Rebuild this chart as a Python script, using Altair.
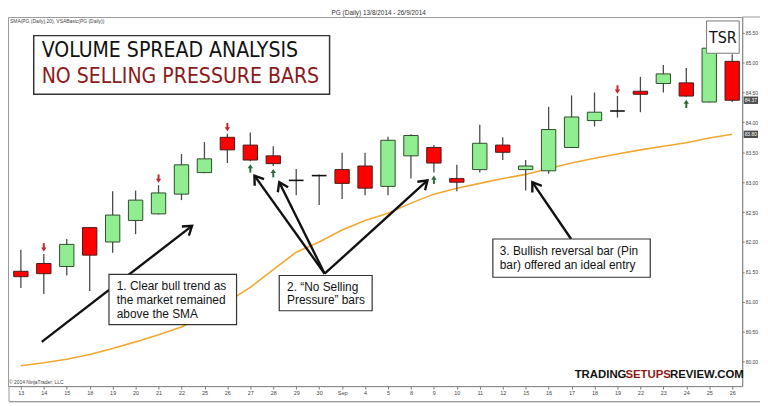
import json
import math
import altair as alt
import pandas as pd

# ---------------- data ----------------
day_labels = ["13", "14", "15", "18", "19", "20", "21", "22", "25", "26", "27", "28",
              "29", "30", "Sep", "4", "5", "8", "9", "10", "11", "12", "15", "16",
              "17", "18", "19", "22", "23", "24", "25", "26"]
opens = [81.51, 81.64, 81.59, 82.24, 82.00, 82.36, 82.47, 82.80, 83.16, 83.75,
         83.62, 83.44, 83.03, 83.11, 83.21, 83.27, 82.93, 83.44, 83.58, 83.06,
         83.21, 83.62, 83.21, 83.19, 83.58, 84.03, 84.19, 84.52, 84.65, 84.66,
         84.34, 85.02]
highs = [81.87, 81.80, 82.05, 82.25, 82.85, 82.86, 82.95, 83.47, 83.67, 83.81,
         83.83, 83.60, 83.22, 83.13, 83.49, 83.49, 83.76, 83.80, 83.62, 83.29,
         83.96, 83.75, 83.37, 84.26, 84.45, 84.50, 84.44, 84.76, 84.96, 84.91,
         85.45, 85.14]
lows = [81.23, 81.13, 81.44, 81.18, 81.82, 82.13, 82.46, 82.70, 83.15, 83.32,
        83.35, 83.27, 82.78, 82.62, 82.72, 82.78, 82.78, 83.06, 83.16, 82.85,
        83.16, 83.37, 82.86, 83.14, 83.57, 83.93, 84.08, 84.17, 84.50, 84.43,
        84.33, 84.34]
closes = [81.42, 81.47, 81.96, 81.78, 82.45, 82.70, 82.82, 83.29, 83.39, 83.54,
          83.37, 83.31, 83.03, 83.11, 82.98, 82.90, 83.70, 83.78, 83.32, 83.00,
          83.65, 83.50, 83.27, 83.88, 84.09, 84.17, 84.19, 84.47, 84.81, 84.44,
          85.24, 84.37]
sma20 = [79.93, 79.98, 80.04, 80.12, 80.22, 80.33, 80.45, 80.58, 80.76, 81.00,
         81.24, 81.54, 81.83, 82.00, 82.20, 82.36, 82.48, 82.65, 82.80, 82.90,
         82.98, 83.06, 83.13, 83.23, 83.32, 83.40, 83.47, 83.54, 83.60, 83.66,
         83.74, 83.80]
down_arrow_bars = [1, 6, 9, 26]   # red arrows above the bar
up_arrow_bars = [10, 11, 18, 29]  # green "no selling pressure" arrows below
price_ticks = [80.0, 80.5, 81.0, 81.5, 82.0, 82.5, 83.0, 83.5, 84.0, 84.5, 85.0, 85.5]

note_lines = [
    ["1. Clear bull trend as", "the market remained", "above the SMA"],
    ["2. \u201cNo Selling", "Pressure\u201d bars"],
    ["3. Bullish reversal bar (Pin", "bar) offered an ideal entry"],
]

# ---------------- layout (data space for annotations) ----------------
note_boxes = [  # x0, x1 (bar index), ytop, ybottom (price)
    (3.84, 9.40, 81.46, 80.62),
    (11.26, 15.31, 81.44, 80.85),
    (20.57, 27.43, 82.05, 81.41),
]
note_text_pos = [  # x (bar index), line y positions (price)
    (4.18, [81.26, 81.03, 80.80]),
    (11.60, [81.24, 81.03]),
    (20.87, [81.85, 81.62]),
]
note_arrows = [  # from (x, price) -> to (x, price)
    (0.91, 80.33, 7.46, 82.27),
    (13.24, 81.47, 10.18, 83.11),
    (13.24, 81.47, 11.26, 83.00),
    (13.24, 81.47, 17.72, 83.03),
    (23.98, 82.05, 22.29, 83.00),
]

# ---------------- geometry ----------------
TOT_W, TOT_H = 760, 398
PAD_L, PAD_T = 0, 7
W, H = 742, 373
KY = H / 377.0
STEP = 23.19
X_DOM = [-13 / STEP, -13 / STEP + W / STEP]
Y_DOM = [80 + (363 - 388) / 61.1, 80 + (363 - 11) / 61.1]
UX = W / (X_DOM[1] - X_DOM[0])
UY = H / (Y_DOM[1] - Y_DOM[0])


def px(rx):
    return max(rx - 8 - PAD_L, 1)


def py(ry):
    return (ry - 11) * KY


SANS = "Liberation Sans, Arial, sans-serif"
NARROW = "Liberation Sans Narrow, Arial Narrow, DejaVu Sans Condensed, Roboto Condensed, sans-serif"
DARKRED = "#8B1A1A"

xscale = alt.Scale(domain=X_DOM, nice=False, zero=False, padding=0)
yscale = alt.Scale(domain=Y_DOM, nice=False, zero=False, padding=0)
xaxis = alt.Axis(values=list(range(len(day_labels))),
                 labelExpr=f"{json.dumps(day_labels)}[datum.value]",
                 title="", grid=False, labelFontSize=5.5, labelColor="#444",
                 tickSize=3, tickColor="#777", domainColor="#888",
                 labelPadding=2, labelOverlap=False, labelFlush=False,
                 labelFont=SANS)
yaxis = alt.Axis(orient="right", values=price_ticks, format=".2f", title="",
                 grid=False, labelFontSize=5, labelColor="#444", tickSize=2,
                 tickColor="#777", domainColor="#888", labelPadding=1,
                 labelFont=SANS)


def X(f):
    return alt.X(f"{f}:Q", scale=xscale, axis=xaxis)


def Y(f):
    return alt.Y(f"{f}:Q", scale=yscale, axis=yaxis)


n = len(opens)
candles = pd.DataFrame({
    "i": list(range(n)), "open": opens, "high": highs, "low": lows, "close": closes,
    "sma": sma20,
})
candles["dir"] = ["up" if c > o else ("down" if c < o else "doji")
                  for o, c in zip(opens, closes)]
candles["xl"] = candles["i"] - 0.32
candles["xr"] = candles["i"] + 0.32

wicks = alt.Chart(candles).mark_rule(color="#4a4a4a", strokeWidth=1.3).encode(
    x=X("i"), y=Y("low"), y2="high")

bodies = alt.Chart(candles).transform_filter("datum.dir != 'doji'").mark_bar(
    size=14.5, strokeWidth=1).encode(
    x=X("i"), y=Y("open"), y2="close",
    fill=alt.Fill("dir:N", scale=alt.Scale(domain=["up", "down"], range=["#90EE90", "#FF0000"]), legend=None),
    stroke=alt.Stroke("dir:N", scale=alt.Scale(domain=["up", "down"], range=["#2E4A2E", "#4A1A1A"]), legend=None),
)

dojis = alt.Chart(candles).transform_filter("datum.dir == 'doji'").mark_rule(
    color="#111", strokeWidth=1.6).encode(x=X("xl"), x2="xr", y=Y("open"))

sma_line = alt.Chart(candles).mark_line(color="#F0A830", strokeWidth=1.6).encode(
    x=X("i"), y=Y("sma"))

# VSA signal arrows
dn = pd.DataFrame({"i": down_arrow_bars})
dn["tail"] = [highs[k] + 0.18 for k in down_arrow_bars]
dn["shaft"] = [highs[k] + 0.09 for k in down_arrow_bars]
dn["tip"] = [highs[k] + 0.04 for k in down_arrow_bars]
up = pd.DataFrame({"i": up_arrow_bars})
up["tail"] = [lows[k] - 0.19 for k in up_arrow_bars]
up["shaft"] = [lows[k] - 0.10 for k in up_arrow_bars]
up["tip"] = [lows[k] - 0.05 for k in up_arrow_bars]

RED_AR, GRN_AR = "#C0282D", "#2D6A3E"
dn_shaft = alt.Chart(dn).mark_rule(color=RED_AR, strokeWidth=2).encode(x=X("i"), y=Y("tail"), y2="shaft")
dn_head = alt.Chart(dn).mark_point(shape="M-1,-1.5L1,-1.5L0,0Z", size=30, filled=True,
                                   opacity=1, color=RED_AR).encode(x=X("i"), y=Y("tip"))
up_shaft = alt.Chart(up).mark_rule(color=GRN_AR, strokeWidth=2).encode(x=X("i"), y=Y("tail"), y2="shaft")
up_head = alt.Chart(up).mark_point(shape="M-1,1.5L1,1.5L0,0Z", size=30, filled=True,
                                   opacity=1, color=GRN_AR).encode(x=X("i"), y=Y("tip"))

# annotation arrows
arr = pd.DataFrame(note_arrows, columns=["x0", "y0", "x1", "y1"])
arr["ang"] = [math.degrees(math.atan2((r.x1 - r.x0) * UX, (r.y1 - r.y0) * UY)) % 360
              for r in arr.itertuples()]
arrow_lines = alt.Chart(arr).mark_rule(color="#111", strokeWidth=2.4).encode(
    x=X("x0"), y=Y("y0"), x2="x1", y2="y1")
arrow_heads = alt.Chart(arr).mark_point(shape="M-0.75,1.1L0,0L0.75,1.1", size=240,
                                        filled=False, strokeWidth=2.4, opacity=1,
                                        color="#111", strokeJoin="miter").encode(
    x=X("x1"), y=Y("y1"), angle=alt.Angle("ang:Q", scale=None))

boxes = pd.DataFrame(note_boxes, columns=["x0", "x1", "y0", "y1"])
note_rects = alt.Chart(boxes).mark_rect(fill="white", stroke="#333", strokeWidth=1.2).encode(
    x=X("x0"), x2="x1", y=Y("y0"), y2="y1")

txt_rows = []
for (tx, ys), lines in zip(note_text_pos, note_lines):
    for yy, line in zip(ys, lines):
        txt_rows.append({"x": tx, "y": yy, "t": line})
note_text = alt.Chart(pd.DataFrame(txt_rows)).mark_text(
    align="left", baseline="middle", font=SANS, fontSize=12, color="#111").encode(
    x=X("x"), y=Y("y"), text="t:N")

# last-value boxes on the price axis
lastv = pd.DataFrame({"p": [closes[-1], sma20[-1]]})
lastv["top"] = lastv["p"] + 0.062
lastv["bot"] = lastv["p"] - 0.062
last_rect = alt.Chart(lastv).mark_rect(fill="#4d4d4d").encode(
    x=alt.value(px(751.5)), x2=alt.value(px(766)), y=Y("top"), y2="bot")
last_text = alt.Chart(lastv).mark_text(fontSize=5, color="white", font=SANS,
                                       baseline="middle", align="center").encode(
    x=alt.value(px(758.7)), y=Y("p"), text=alt.Text("p:Q", format=".2f"))

# ---------------- decorations (pixel placed) ----------------
one = pd.DataFrame({"k": [0]})


def rect(x0, y0, x1, y1, **kw):
    return alt.Chart(one).mark_rect(**kw).encode(
        x=alt.value(px(x0)), x2=alt.value(px(x1)), y=alt.value(py(y0)), y2=alt.value(py(y1)))


def text(s, x, y, **kw):
    return alt.Chart(one).mark_text(text=s, baseline="middle", **kw).encode(
        x=alt.value(px(x)), y=alt.value(y))


def rule(x0, y0, x1, y1, **kw):
    return alt.Chart(one).mark_rule(**kw).encode(
        x=alt.value(px(x0)), x2=alt.value(px(x1)), y=alt.value(py(y0)), y2=alt.value(py(y1)))


title_box = rect(34, 30, 333, 90, fill="white", stroke="#333", strokeWidth=1.5)
title1 = text("VOLUME SPREAD ANALYSIS", 42, py(46), align="left", font=NARROW, fontSize=21.3, color="#111")
title2 = text("NO SELLING PRESSURE BARS", 42, py(72), align="left", font=NARROW, fontSize=21.3, color=DARKRED)

tsr_box = rect(714, 15, 747, 48, fill="white", stroke="#777", strokeWidth=1)
tsr = text("TSR", 730.5, py(32), align="center", font=NARROW, fontSize=16, color="#111")

wm_kw = dict(font=SANS, fontSize=11.5, fontWeight="bold")
wm1 = text("TRADING", 633, py(377), align="right", color="#111", **wm_kw)
wm2 = text("SETUPS", 655, py(377), align="center", color=DARKRED, **wm_kw)
wm3 = text("REVIEW.COM", 677, py(377), align="left", color="#111", **wm_kw)

header = text("PG (Daily)  13/8/2014 - 26/9/2014", 335, -4.3, align="left", font=SANS, fontSize=6.5, color="#333")
indicator = text("SMA(PG (Daily),20), VSABasic(PG (Daily))", 10, py(15.5), align="left", font=SANS, fontSize=5, color="#444")
copyright_t = text("\u00a9 2014 NinjaTrader, LLC", 3, py(383.5), align="left", font=SANS, fontSize=5, color="#444")

top_line = rule(750, 11, 768, 11, color="#999", strokeWidth=1)
bottom_frame = rule(0, 404, 768, 404, color="#777", strokeWidth=1.2)
left_frame = rule(8.5, 388, 8.5, 404, color="#999", strokeWidth=1)

chart = alt.layer(
    sma_line, wicks, bodies, dojis,
    dn_shaft, dn_head, up_shaft, up_head,
    arrow_lines, arrow_heads, note_rects, note_text,
    last_rect, last_text,
    title_box, title1, title2, tsr_box, tsr, wm1, wm2, wm3,
    header, indicator, copyright_t, top_line, bottom_frame, left_frame,
).properties(
    width=W, height=H,
    padding={"left": PAD_L, "top": PAD_T, "right": TOT_W - PAD_L - W, "bottom": TOT_H - PAD_T - H},
    autosize=alt.AutoSizeParams(type="none"),
    background="white",
).configure_view(stroke="#999", strokeWidth=1)

chart.save("out.html", embed_options={"renderer": "svg", "actions": False})
